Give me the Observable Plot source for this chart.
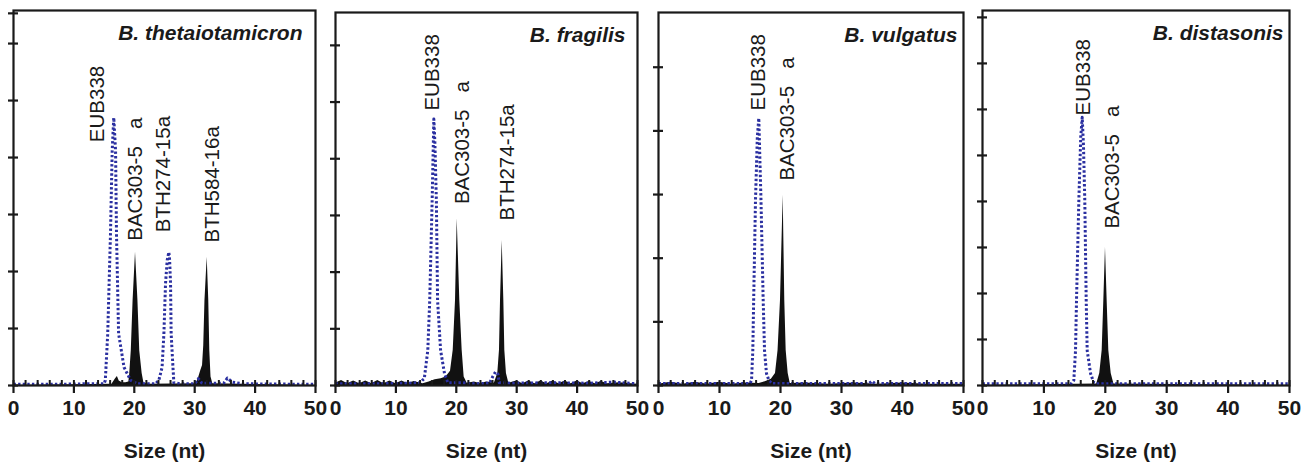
<!DOCTYPE html>
<html>
<head>
<meta charset="utf-8">
<script src="https://cdn.jsdelivr.net/npm/d3@7"></script>
<script src="https://cdn.jsdelivr.net/npm/@observablehq/plot@0.6"></script>
<style>
  body { margin: 0; background: #fff; }
  #wrap { position: relative; width: 1308px; height: 463px; overflow: hidden; }
  #wrap svg { position: absolute; top: 0; overflow: visible; }
  [aria-label="x-axis tick label"] text { font-weight: bold; }
</style>
</head>
<body>
<div id="wrap"></div>
<script>
// ---------- data (size in nt, signal in y-tick units) ----------
const titles = ["B. thetaiotamicron", "B. fragilis", "B. vulgatus", "B. distasonis"];
const xMajorTicks = [0, 10, 20, 30, 40, 50];
const xMinorTicks = [0, 2, 4, 6, 8, 10, 12, 14, 16, 18, 20, 22, 24, 26, 28, 30, 32, 34, 36, 38, 40, 42, 44, 46, 48, 50];
const xLabel = "Size (nt)";

const p1YTicks = [0, 1, 2, 3, 4, 5, 6, 6.53];
const p2YTicks = [0, 1, 2, 3, 4, 5, 6];
const p3YTicks = [0, 1, 2, 3, 4, 5];
const p4YTicks = [0, 1, 2, 3, 4, 5, 6, 7, 8];

// Panel 1 – B. thetaiotamicron
const p1Blue = [
  [0, 0.02], [7, 0.02], [12, 0.03], [15.0, 0.03], [15.2, 0.09], [15.6, 0.91], [16.06, 2.67], [16.34, 4.12],
  [16.6, 4.70], [16.9, 4.12], [17.05, 2.67], [17.4, 0.91], [18.3, 0.32], [19.4, 0.09], [20.5, 0.03],
  [23.5, 0.03], [24.06, 0.09], [24.6, 0.32], [24.9, 0.91], [25.17, 1.79], [25.45, 2.2], [25.72, 2.34],
  [25.85, 2.2], [26.0, 1.79], [26.1, 0.91], [26.4, 0.32], [26.55, 0.05], [27.5, 0.03],
  [30.0, 0.03], [30.6, 0.12], [31.2, 0.04], [34.8, 0.04], [35.4, 0.13], [36.2, 0.06], [38, 0.03], [50, 0.02]
];
const p1Black = [
  [0, 0.0], [16.3, 0.02], [16.9, 0.12], [17.2, 0.16], [17.5, 0.08], [18.0, 0.05], [18.6, 0.05],
  [19.1, 0.06], [19.25, 0.21], [19.5, 0.61], [19.8, 1.49], [20.2, 2.34], [20.6, 1.49], [20.9, 0.61],
  [21.3, 0.21], [21.6, 0.04], [22.5, 0.02], [30.2, 0.03], [30.6, 0.12], [31.0, 0.26], [31.3, 0.35],
  [31.5, 0.7], [31.7, 1.49], [32.07, 2.25], [32.33, 1.49], [32.5, 0.61], [32.7, 0.15], [33.0, 0.03], [50, 0.0]
];
const p1Labels = [
  {x: 13.86, y: 4.27, text: "EUB338"},
  {x: 20.2, y: 2.54, text: "BAC303-5\u00a0\u00a0\u00a0a"},
  {x: 24.75, y: 2.69, text: "BTH274-15a"},
  {x: 32.9, y: 2.51, text: "BTH584-16a"}
];

// Panel 2 – B. fragilis
const p2Blue = [
  [0, 0.03], [6, 0.03], [12, 0.04], [14.0, 0.05], [14.35, 0.09], [14.7, 0.12], [15.28, 0.62], [15.6, 1.5],
  [16.0, 3.26], [16.28, 4.70], [16.45, 4.3], [16.7, 3.26], [16.9, 1.5], [17.4, 0.62], [18.05, 0.21],
  [18.6, 0.05], [21, 0.05], [23, 0.03], [25.5, 0.04], [26.0, 0.15], [26.5, 0.24], [26.9, 0.2],
  [27.1, 0.05], [29, 0.04], [36, 0.05], [42, 0.04], [46, 0.06], [50, 0.03]
];
const p2Black = [
  [0, 0.04], [1, 0.09], [2, 0.03], [3, 0.08], [4, 0.03], [5, 0.08], [6, 0.03], [7, 0.09], [8, 0.03],
  [9, 0.08], [10, 0.03], [11, 0.08], [12, 0.03], [13, 0.07], [14.5, 0.03], [15.5, 0.06], [16.5, 0.1],
  [17.5, 0.12], [18.3, 0.15], [19.04, 0.25], [19.49, 0.62], [19.87, 1.5], [20.15, 2.94], [20.58, 1.5],
  [20.97, 0.62], [21.3, 0.15], [21.8, 0.04], [23, 0.06], [24, 0.03], [25, 0.06], [26.3, 0.04],
  [26.87, 0.21], [27.15, 0.62], [27.32, 1.5], [27.6, 2.56], [27.87, 1.5], [28.03, 0.62], [28.3, 0.21],
  [28.7, 0.04], [30, 0.08], [31, 0.03], [32, 0.08], [33, 0.03], [34, 0.08], [35, 0.03], [36, 0.08],
  [37, 0.03], [38, 0.08], [39, 0.03], [40, 0.08], [41, 0.03], [42, 0.07], [43, 0.03], [44, 0.07],
  [45, 0.03], [47, 0.05], [50, 0.02]
];
const p2Labels = [
  {x: 16.0, y: 4.85, text: "EUB338"},
  {x: 21.0, y: 3.2, text: "BAC303-5\u00a0\u00a0\u00a0a"},
  {x: 28.4, y: 2.91, text: "BTH274-15a"}
];

// Panel 3 – B. vulgatus
const p3Blue = [
  [0, 0.03], [8, 0.03], [15.0, 0.03], [15.25, 0.08], [15.46, 0.55], [15.6, 1.34], [15.9, 2.91],
  [16.2, 3.9], [16.44, 4.2], [16.8, 2.91], [17.16, 1.34], [17.38, 0.55], [17.7, 0.19], [18.1, 0.08],
  [18.6, 0.03], [34.5, 0.03], [35.0, 0.07], [35.5, 0.03], [50, 0.03]
];
const p3Black = [
  [0, 0.02], [2, 0.05], [4, 0.02], [6, 0.05], [8, 0.02], [10, 0.05], [12, 0.02], [14, 0.04],
  [16.5, 0.03], [17.5, 0.06], [18.5, 0.1], [19.18, 0.19], [19.6, 0.55], [20.0, 1.34], [20.44, 2.99],
  [20.7, 1.34], [20.93, 0.55], [21.26, 0.19], [21.6, 0.03], [24, 0.04], [28, 0.02], [32, 0.04],
  [36, 0.02], [40, 0.04], [44, 0.02], [50, 0.02]
];
const p3Labels = [
  {x: 16.45, y: 4.32, text: "EUB338"},
  {x: 21.1, y: 3.22, text: "BAC303-5\u00a0\u00a0\u00a0a"}
];

// Panel 4 – B. distasonis
const p4Blue = [
  [0, 0.04], [10, 0.04], [14.5, 0.04], [14.87, 0.11], [15.15, 0.76], [15.31, 1.85], [15.69, 4.02],
  [16.0, 5.4], [16.24, 5.83], [16.45, 5.2], [16.66, 4.02], [16.89, 1.85], [17.05, 0.76], [17.6, 0.26],
  [18.1, 0.07], [18.6, 0.04], [50, 0.04]
];
const p4Black = [
  [0, 0.0], [18.6, 0.03], [19.1, 0.26], [19.49, 0.76], [19.76, 1.85], [20.03, 3.0], [20.3, 1.85],
  [20.57, 0.76], [20.96, 0.26], [21.4, 0.03], [50, 0.0]
];
const p4Labels = [
  {x: 16.5, y: 5.87, text: "EUB338"},
  {x: 21.1, y: 3.41, text: "BAC303-5\u00a0\u00a0\u00a0a"}
];

// ---------- layout ----------
const FONT = '"Liberation Sans", Arial, Helvetica, sans-serif';
const INK = "#1a1a1a";
const BLUE = "#2a2fa0";
const H = 463, BOTTOM = 385, ML = 13, MR = 16;

const panels = [
  {left: 13,  right: 315,  top: 10, ymax: 6.58, yTicks: p1YTicks, blue: p1Blue, black: p1Black, labels: p1Labels, title: titles[0], pad: 13},
  {left: 335, right: 637,  top: 12, ymax: 6.58, yTicks: p2YTicks, blue: p2Blue, black: p2Black, labels: p2Labels, title: titles[1], pad: 12},
  {left: 658, right: 963,  top: 12, ymax: 5.86, yTicks: p3YTicks, blue: p3Blue, black: p3Black, labels: p3Labels, title: titles[2], pad: 6},
  {left: 982, right: 1289, top: 10, ymax: 8.15, yTicks: p4YTicks, blue: p4Blue, black: p4Black, labels: p4Labels, title: titles[3], pad: 6}
];

const wrap = document.getElementById("wrap");
for (const p of panels) {
  const plotW = p.right - p.left;
  const plotH = BOTTOM - p.top;
  const svg = Plot.plot({
    width: ML + plotW + MR,
    height: H,
    marginLeft: ML,
    marginRight: MR,
    marginTop: p.top,
    marginBottom: H - BOTTOM,
    style: {fontFamily: FONT, background: "transparent", overflow: "visible", color: INK},
    x: {domain: [0, 50]},
    y: {domain: [0, p.ymax], axis: null},
    marks: [
      Plot.areaY(p.black, {x: d => d[0], y: d => d[1], fill: "#111", curve: "linear"}),
      Plot.lineY(p.blue, {x: d => d[0], y: d => d[1], stroke: BLUE, strokeWidth: 3, strokeDasharray: "2.4,2.2", strokeLinecap: "butt", curve: "linear"}),
      Plot.frame({stroke: INK, strokeWidth: 2.2}),
      Plot.tickX(xMinorTicks, {x: d => d, stroke: INK, strokeWidth: 2, insetTop: plotH - 5}),
      Plot.tickY(p.yTicks, {y: d => d, stroke: INK, strokeWidth: 2.2, insetRight: plotW - 10, dx: -5}),
      Plot.axisX({ticks: xMajorTicks, tickSize: 8, tickPadding: 7, fontSize: 21, fontWeight: "bold", strokeWidth: 2.2, stroke: INK, fill: INK, label: null, tickFormat: d => String(d)}),
      Plot.text(p.labels, {x: "x", y: "y", text: "text", rotate: -90, textAnchor: "start", lineAnchor: "middle", fontSize: 20.5, fill: INK}),
      Plot.text([p.title], {frameAnchor: "top-right", dx: -p.pad, dy: 23, textAnchor: "end", lineAnchor: "middle", fontSize: 21, fontWeight: "bold", fontStyle: "italic", fill: INK}),
      Plot.text([xLabel], {frameAnchor: "bottom", dy: 66, lineAnchor: "middle", fontSize: 21, fontWeight: "bold", fill: INK})
    ]
  });
  svg.style.left = (p.left - ML) + "px";
  wrap.appendChild(svg);
}
</script>
</body>
</html>
